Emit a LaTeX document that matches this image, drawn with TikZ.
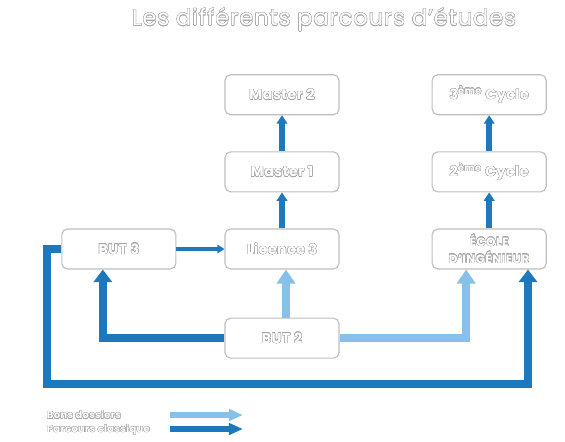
\documentclass[tikz,border=0pt]{standalone}
\usepackage{fontspec}
\setmainfont{Poppins}[LetterSpace=4]
\usepackage[copies]{contour}
\usepackage{tikz}
\usetikzlibrary{positioning, arrows.meta}

\definecolor{darkblue}{RGB}{30,120,190}
\definecolor{lightblue}{RGB}{135,192,232}
\definecolor{boxgray}{RGB}{190,190,190}
\definecolor{txtgray}{RGB}{165,165,165}

% hollow lettering, as in the slide
\contourlength{0.22pt}
\contournumber{20}
\newcommand{\outl}[1]{\contour{txtgray}{\textcolor{white}{#1}}}

\begin{document}
\begin{tikzpicture}[
        x=0.025cm, y=-0.025cm,
        font=\bfseries\fontsize{10}{12}\selectfont,
        node distance=9mm and 12mm,
        box/.style={
            draw=boxgray,
            line width=0.8pt,
            rounded corners=4pt,
            fill=white,
            align=center,
            minimum width=2.85cm,
            minimum height=1cm
        },
        classic/.style={
            draw=darkblue,
            line width=5.5pt,
            -{Triangle[width=13pt, length=9pt]}
        },
        good/.style={
            draw=lightblue,
            line width=5.5pt,
            -{Triangle[width=13pt, length=10pt]}
        },
        small/.style={
            draw=darkblue,
            line width=4pt,
            -{Triangle[width=7.5pt, length=6pt]}
        }
    ]
    \useasboundingbox (0,0) rectangle (565,441);

    \node[font=\mdseries\fontsize{16}{19}\selectfont] (title) at (324,20) {\outl{Les différents parcours d’études}};

    \node[box] (licence3) at (282,249) {\outl{Licence 3}};
    \node[box, above=of licence3] (master1) {\outl{Master 1}};
    \node[box, above=of master1] (master2) {\outl{Master 2}};
    \node[box, left=of licence3] (but3) {\outl{BUT 3}};
    \node[box, below=12mm of licence3] (but2) {\outl{BUT 2}};
    \node[box, right=23mm of licence3, font=\bfseries\fontsize{8.5}{12}\selectfont] (ecole) {\outl{ÉCOLE}\\\outl{D’INGÉNIEUR}};
    \node[box, above=of ecole] (cycle2) {\outl{2\textsuperscript{ème} Cycle}};
    \node[box, above=of cycle2] (cycle3) {\outl{3\textsuperscript{ème} Cycle}};

    \coordinate (loopl) at (47,384);
    \coordinate (loopr) at (528,384);

    \draw[small] (licence3) -- (master1);
    \draw[small] (master1) -- (master2);
    \draw[small] (ecole) -- (cycle2);
    \draw[small] (cycle2) -- (cycle3);
    \draw[darkblue, line width=2.5pt, -{Triangle[width=6pt, length=5pt]}] (but3) -- (licence3);

    \draw[good] ([xshift=0.1cm]but2.north) -- ([xshift=0.1cm]licence3.south);
    \draw[good] (but2.east) -| ([xshift=-0.575cm]ecole.south);
    \draw[classic] (but2.west) -| ([xshift=-0.4cm]but3.south);
    \draw[classic] (but3.west) -| (loopl) -- (loopr) -- (ecole.south -| loopr);

    % legend
    \node[anchor=west, font=\bfseries\fontsize{7}{9}\selectfont] (bons) at (42,415) {\outl{Bons dossiers}};
    \node[anchor=west, font=\bfseries\fontsize{7}{9}\selectfont] (classique) at (42,430) {\outl{Parcours classique}};
    \coordinate (bonsa) at (170,415);
    \coordinate (bonsb) at (243,415);
    \coordinate (classa) at (170,429);
    \coordinate (classb) at (243,429);
    \draw[lightblue, line width=4pt, -{Triangle[width=8pt, length=10pt]}] (bonsa) -- (bonsb);
    \draw[darkblue, line width=4pt, -{Triangle[width=8pt, length=10pt]}] (classa) -- (classb);
\end{tikzpicture}
\end{document}
